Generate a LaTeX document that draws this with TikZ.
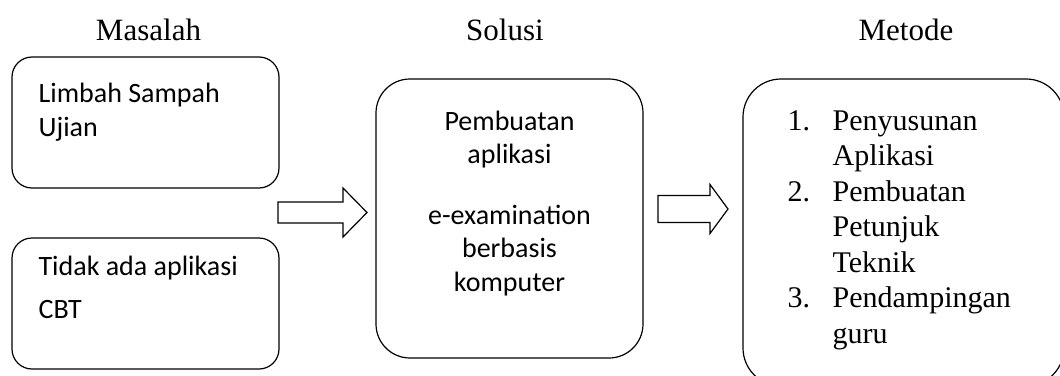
\documentclass[tikz,border=0pt]{standalone}
\usepackage{fontspec}
\setmainfont{Liberation Serif}
\newfontfamily\calibri{Carlito}

\begin{document}
\begin{tikzpicture}[x=1pt, y=-1pt, line width=1.2pt,
            kotak/.style={draw, rounded corners=#1, inner sep=0pt},
            kotak/.default=20pt,
            judul/.style={font=\fontsize{31}{37}\selectfont, anchor=base, inner sep=0pt},
            isi/.style={font=\calibri\fontsize{28}{33.5}\selectfont, inner sep=0pt}]
            \useasboundingbox (0,0) rectangle (1060,375);
            \clip (0,0) rectangle (1060,375);
            % judul kolom
            \node [judul] (masalah) at (148.5,40) {Masalah};
            \node [judul] (solusi) at (505,40) {Solusi};
            \node [judul] (metode) at (906,40) {Metode};
            % kotak
            \node [kotak, minimum width=267pt, minimum height=131pt] (box1) at (145.5,122.5) {};
            \node [kotak, minimum width=267pt, minimum height=131pt] (box2) at (145.5,303.5) {};
            \node [kotak=34pt, minimum width=267pt, minimum height=279pt] (box3) at (509.5,218.5) {};
            \node [kotak=38pt, minimum width=321pt, minimum height=307pt] (box4) at (903.5,232.5) {};
            % isi kotak (base = baris terakhir)
            \node [isi, anchor=base west, align=left] (limbah) at (38,136) {Limbah Sampah\\Ujian};
            \node [isi, anchor=base west, align=left] (tidak) at (38,318) {Tidak ada aplikasi\\[9pt]CBT};
            \node [isi, anchor=base, align=center] (buat) at (509.5,291)
                {Pembuatan\\aplikasi\\[27pt]e-examination\\berbasis\\komputer};
            \node [anchor=base west, align=left, inner sep=0pt, font=\fontsize{30}{35.5}\selectfont] (langkah) at (787,343)
                {\makebox[45pt][l]{1.}Penyusunan\\\hspace*{45pt}Aplikasi\\
                 \makebox[45pt][l]{2.}Pembuatan\\\hspace*{45pt}Petunjuk\\\hspace*{45pt}Teknik\\
                 \makebox[45pt][l]{3.}Pendampingan\\\hspace*{45pt}guru};
            % panah blok
            \coordinate (a1) at (278,212.5);
            \coordinate (a2) at (658,209);
            \draw (a1) ++(0,-10.5) -- ++(65,0) -- ++(0,-14) -- ++(24,24.5) -- ++(-24,24.5)
                -- ++(0,-14) -- ++(-65,0) -- cycle;
            \draw (a2) ++(0,-13.5) -- ++(52,0) -- ++(0,-11) -- ++(18,24.5) -- ++(-18,24.5)
                -- ++(0,-11) -- ++(-52,0) -- cycle;
        \end{tikzpicture}
\end{document}
